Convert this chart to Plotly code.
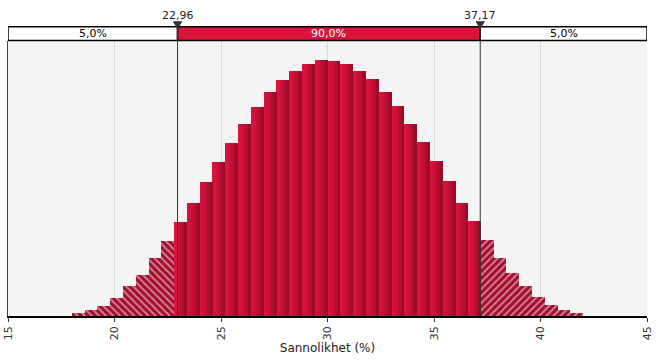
import numpy as np
import plotly.graph_objects as go

# ---- data ----
bin_start = 18.0
bin_width = 0.6
freq = [2.7, 6, 10, 18.3, 30, 41, 58, 75, 94.3, 113,
        134, 154, 172.7, 192, 209, 224, 236, 245, 252, 256,
        255, 252, 245, 237, 224, 210, 192, 174, 155, 135,
        113, 95, 76, 58, 43, 30, 19, 11, 6, 3]
lower_delim = 22.96
upper_delim = 37.17
pct_left, pct_mid, pct_right = 5.0, 90.0, 5.0
x_min, x_max = 15, 45
x_ticks = [15, 20, 25, 30, 35, 40, 45]
x_title = "Sannolikhet (%)"

def fmt(v, d):
    return f"{v:.{d}f}".replace(".", ",")

n = len(freq)
centers = bin_start + bin_width * (np.arange(n) + 0.5)
freq = np.array(freq, dtype=float)
inside = (centers > lower_delim) & (centers < upper_delim)
left = centers <= lower_delim
right = centers >= upper_delim

fig = go.Figure()

# gradient solid bars (inside) built from narrow strips
grad = ["#d8133f", "#d01139", "#c20f34", "#b00d2f", "#990b29"]
ns = len(grad)
for i, c in enumerate(grad):
    fig.add_trace(go.Bar(
        x=centers, y=np.where(inside, freq, np.nan),
        width=bin_width / ns + 0.01, offset=-bin_width / 2 + i * bin_width / ns,
        marker=dict(color=c, line=dict(width=0)), hoverinfo="skip", showlegend=False))

for mask, shape in [(left, "\\"), (right, "/")]:
    fig.add_trace(go.Bar(
        x=centers, y=np.where(mask, freq, np.nan), width=bin_width,
        marker=dict(color="#a50e2f", line=dict(width=0),
                    pattern=dict(shape=shape, fgcolor="white", size=5,
                                 solidity=0.35, fillmode="overlay")),
        hoverinfo="skip", showlegend=False))

ymax = 275
shapes = []
strip_y0, strip_y1 = 1.0015, 1.052
segs = [(x_min, lower_delim, "white", pct_left, "#000000"),
        (lower_delim, upper_delim, "#dc143c", pct_mid, "#ffffff"),
        (upper_delim, x_max, "white", pct_right, "#000000")]
annotations = []
for a, b, col, p, tc in segs:
    shapes.append(dict(type="rect", xref="x", yref="paper", x0=a, x1=b,
                       y0=strip_y0, y1=strip_y1, fillcolor=col,
                       line=dict(color="black", width=1.5), layer="above"))
    annotations.append(dict(x=(a + b) / 2, y=(strip_y0 + strip_y1) / 2,
                            xref="x", yref="paper", text=fmt(p, 1) + "%",
                            xanchor="center", yanchor="middle",
                            showarrow=False, font=dict(size=11, color=tc)))
tri_hw = 0.19  # half width of delimiter marker (x units)
for d in [lower_delim, upper_delim]:
    shapes.append(dict(type="line", xref="x", yref="paper", x0=d, x1=d,
                       y0=0, y1=strip_y1, line=dict(color="#333333", width=1),
                       layer="above"))
    shapes.append(dict(type="path", xref="x", yref="paper",
                       path=f"M {d - tri_hw} 1.07 L {d + tri_hw} 1.07 L {d} 1.046 Z",
                       fillcolor="#333333", line=dict(color="#333333", width=1),
                       layer="above"))
    annotations.append(dict(x=d, y=1.0927, xref="x", yref="paper",
                            text=fmt(d, 2), showarrow=False,
                            xanchor="center", yanchor="middle",
                            font=dict(size=11, color="#222222")))

fig.update_layout(
    width=656, height=362,
    margin=dict(l=8, r=9, t=41, b=46, autoexpand=False),
    paper_bgcolor="white", plot_bgcolor="#f4f4f4",
    barmode="overlay", bargap=0,
    font=dict(family="DejaVu Sans", size=11, color="#333333"),
    shapes=shapes, annotations=annotations,
    xaxis=dict(range=[x_min, x_max], tickvals=x_ticks,
               ticktext=[str(t) for t in x_ticks], tickangle=-90,
               automargin=False,
               showgrid=True, gridcolor="#d9d9d9", gridwidth=1,
               showline=True, linecolor="#000000", linewidth=1.5,
               ticks="outside", ticklen=4, tickcolor="#333333",
               zeroline=False,
               title=dict(text=x_title, standoff=4,
                          font=dict(size=12, color="#222222"))),
    yaxis=dict(range=[0, ymax], showticklabels=False, showgrid=False,
               automargin=False,
               zeroline=False, showline=True, linecolor="#444444",
               linewidth=1, ticks=""),
)

fig.write_html("out.html", config={"displayModeBar": False},
               post_script="document.body.style.margin='0';document.body.style.overflow='hidden';")
